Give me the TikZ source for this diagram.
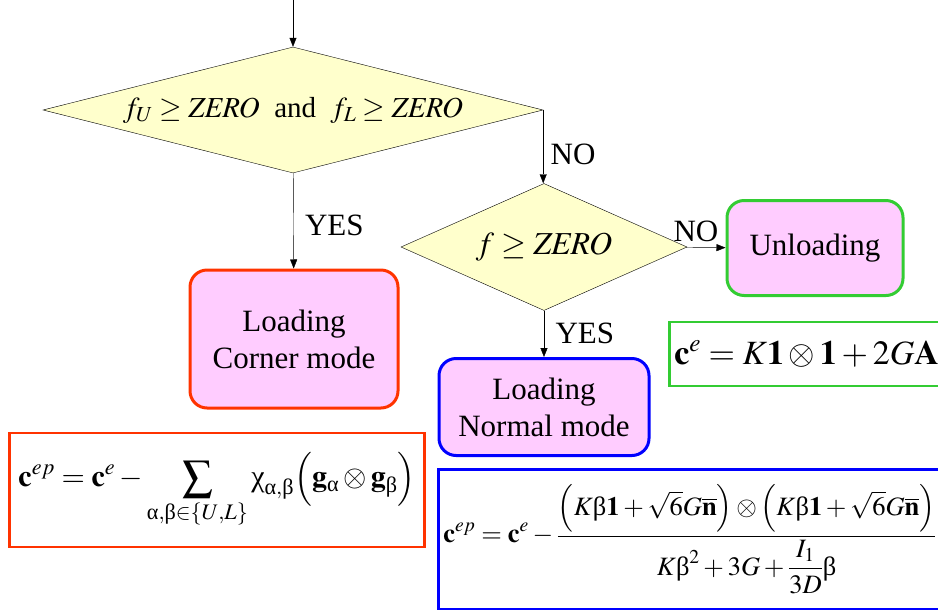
\documentclass[tikz,border=0pt]{standalone}
\usepackage{amsmath}
\usepackage{mathptmx}
\usepackage{fontspec}
\setmainfont{Liberation Serif}
\usepackage{xcolor}
\usetikzlibrary{shapes.geometric, arrows.meta, positioning}

\definecolor{testyellow}{HTML}{FFFFCC}
\definecolor{modepink}{HTML}{FFCCFF}
\definecolor{unloadgreen}{HTML}{33CC33}
\definecolor{cornerred}{HTML}{FF3300}

\newcommand{\ualpha}{\text{α}}
\newcommand{\ubeta}{\text{β}}
\newcommand{\uchi}{\text{χ}}

\begin{document}
\begin{tikzpicture}[
    x=1pt, y=-1pt,
    font=\fontsize{31}{37}\selectfont,
    test/.style={diamond, draw=black, thin, fill=testyellow, inner sep=0pt, align=center},
    modebox/.style={rectangle, fill=modepink, line width=3pt, rounded corners=6mm, align=center},
    formula/.style={rectangle, fill=white, line width=2.5pt, inner xsep=5pt},
    arrow/.style={-{Triangle[length=9pt, width=7pt]}, thin, color=black}
]
\useasboundingbox (0,0) rectangle (938,610);

% Nodes
\coordinate (entry) at (293,0);
\node[test, shape aspect=4, minimum width=500pt, minimum height=126pt, font=\fontsize{29}{34}\selectfont] (both) at (293,110)
    {$f_U \geq \mathit{ZERO}$\ \ and\ \ $f_L \geq \mathit{ZERO}$};
\node[test, shape aspect=2.25, minimum width=286pt, minimum height=127pt, font=\fontsize{32}{38}\selectfont] (single) at (544,247)
    {$f \geq \mathit{ZERO}$};

\node[modebox, draw=unloadgreen, minimum width=176pt, minimum height=95pt] (unload) at (815,248) {Unloading};
\node[modebox, draw=cornerred, minimum width=208pt, minimum height=138pt] (corner) at (294,339) {Loading\\Corner mode};
\node[modebox, draw=blue, minimum width=210pt, minimum height=97pt] (normal) at (544,407) {Loading\\Normal mode};

\node[formula, draw=unloadgreen, anchor=west, minimum height=64pt, text width=268pt, align=flush left,
      font=\fontsize{34}{40}\selectfont] (elastic) at (668,354)
    {$\mathbf{c}^{e} = K\mathbf{1}\otimes\mathbf{1} + 2G\mathbf{A}$};
\node[formula, draw=cornerred, minimum width=415pt, minimum height=114pt, font=\fontsize{30}{36}\selectfont] (cornerlaw) at (217,490)
    {$\displaystyle \mathbf{c}^{ep} = \mathbf{c}^{e} - \sum_{\ualpha,\ubeta\in\{U,L\}}\uchi_{\ualpha,\ubeta}\Bigl(\mathbf{g}_{\ualpha}\otimes\mathbf{g}_{\ubeta}\Bigr)$};
\node[formula, draw=blue, anchor=north west, minimum height=140pt, text width=496pt, align=flush left,
      font=\fontsize{26.5}{31}\selectfont] (normallaw) at (437,468)
    {$\displaystyle \mathbf{c}^{ep} = \mathbf{c}^{e} - \frac{\Bigl(K\ubeta\mathbf{1}+\sqrt{6}G\overline{\mathbf{n}}\Bigr)\otimes\Bigl(K\ubeta\mathbf{1}+\sqrt{6}G\overline{\mathbf{n}}\Bigr)}{K\ubeta^{2}+3G+\dfrac{I_{1}}{3D}\ubeta}$};

% Arrows
\draw[arrow] (entry) -- (both);
\draw[arrow] (both) -- node[right=8pt, pos=0.55] {YES} (corner);
\draw[arrow] (both.east) -- node[right=4pt, pos=0.6] {NO} (both.east |- single.north);
\draw[arrow] (single) -- node[above=2pt, pos=0.25] {NO} (unload);
\draw[arrow] (single) -- node[right=8pt] {YES} (normal);

\end{tikzpicture}
\end{document}
